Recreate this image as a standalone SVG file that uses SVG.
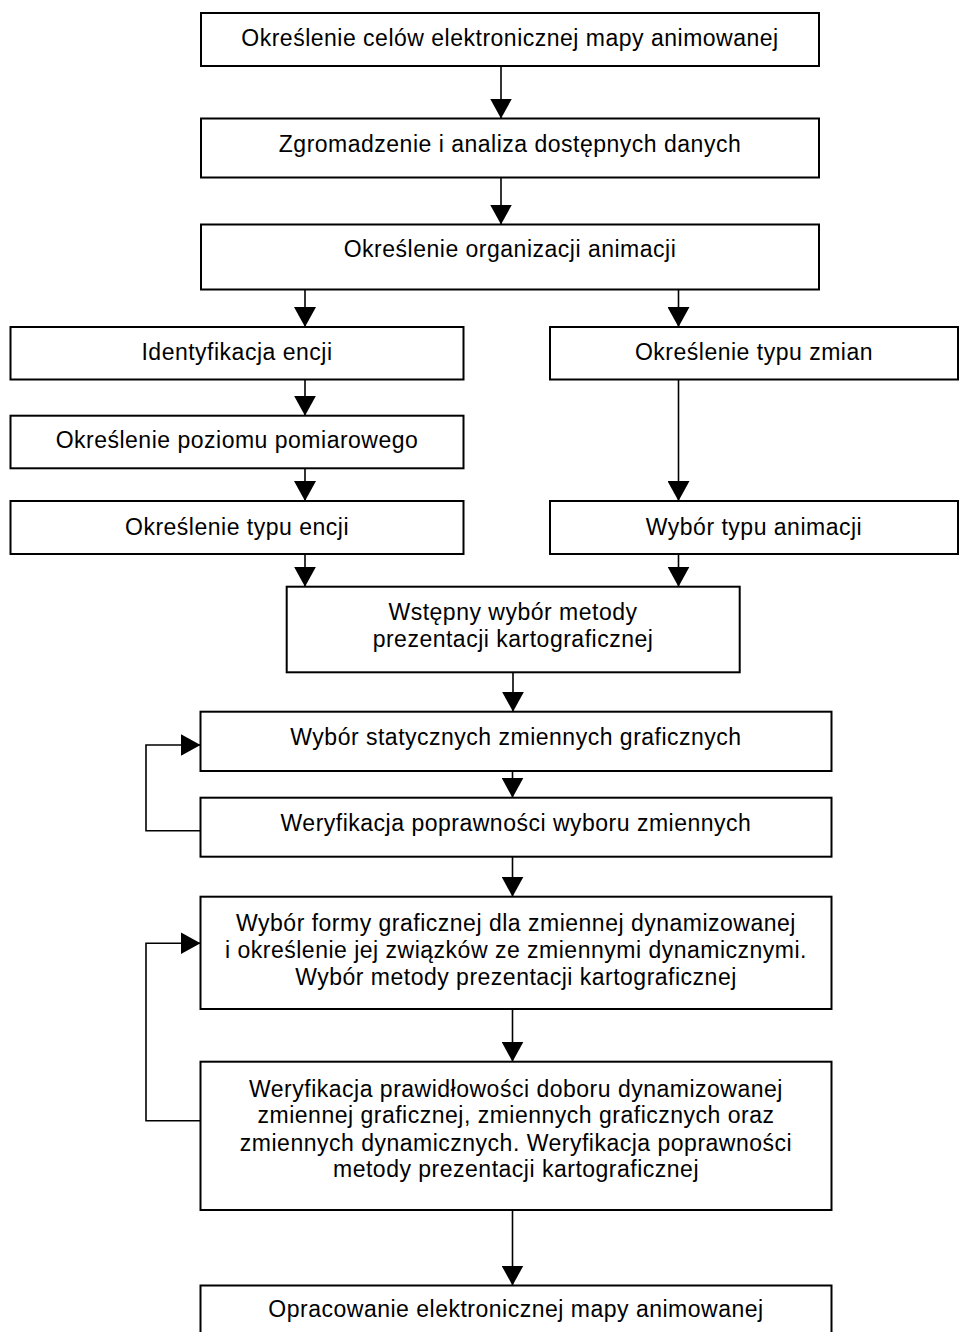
<svg xmlns="http://www.w3.org/2000/svg" width="960" height="1332" viewBox="0 0 960 1332">
<style>
.box{fill:#fff;stroke:#000;stroke-width:2}
.t{font-family:"Liberation Sans",Arial,sans-serif;font-size:23px;letter-spacing:0.5px;fill:#000;text-anchor:middle}
.c{fill:none;stroke:#000;stroke-width:1.6}
</style>
<defs>
<marker id="ah" viewBox="0 0 20 22" refX="20" refY="11" markerWidth="20" markerHeight="22" markerUnits="userSpaceOnUse" orient="auto">
<path d="M0,0 L20,11 L0,22 z" fill="#000"/>
</marker>
</defs>
<rect width="960" height="1332" fill="#fff"/>
<g id="connectors">
<line class="c" x1="501" y1="66" x2="501" y2="118.5" marker-end="url(#ah)"/>
<line class="c" x1="501" y1="177.5" x2="501" y2="224.5" marker-end="url(#ah)"/>
<line class="c" x1="305" y1="289.5" x2="305" y2="327" marker-end="url(#ah)"/>
<line class="c" x1="678.5" y1="289.5" x2="678.5" y2="327" marker-end="url(#ah)"/>
<line class="c" x1="305" y1="379.5" x2="305" y2="415.7" marker-end="url(#ah)"/>
<line class="c" x1="305" y1="468.3" x2="305" y2="501" marker-end="url(#ah)"/>
<line class="c" x1="678.5" y1="379.5" x2="678.5" y2="501" marker-end="url(#ah)"/>
<line class="c" x1="305" y1="554" x2="305" y2="586.7" marker-end="url(#ah)"/>
<line class="c" x1="678.5" y1="554" x2="678.5" y2="586.7" marker-end="url(#ah)"/>
<line class="c" x1="513" y1="672.3" x2="513" y2="711.7" marker-end="url(#ah)"/>
<line class="c" x1="512.5" y1="771" x2="512.5" y2="797.7" marker-end="url(#ah)"/>
<line class="c" x1="512.5" y1="856.7" x2="512.5" y2="896.7" marker-end="url(#ah)"/>
<line class="c" x1="512.5" y1="1009" x2="512.5" y2="1061.7" marker-end="url(#ah)"/>
<line class="c" x1="512.5" y1="1210" x2="512.5" y2="1285.5" marker-end="url(#ah)"/>
<path class="c" d="M200.5,830.7 H146 V745 H200.5" marker-end="url(#ah)"/>
<path class="c" d="M200.5,1120.7 H146 V943.3 H200.5" marker-end="url(#ah)"/>
</g>
<g id="n1"><rect class="box" x="201" y="13" width="618" height="53"/><text class="t" x="510" y="45.5">Określenie celów elektronicznej mapy animowanej</text></g>
<g id="n2"><rect class="box" x="201" y="118.5" width="618" height="59"/><text class="t" x="510" y="152">Zgromadzenie i analiza dostępnych danych</text></g>
<g id="n3"><rect class="box" x="201" y="224.5" width="618" height="65"/><text class="t" x="510" y="257">Określenie organizacji animacji</text></g>
<g id="n4"><rect class="box" x="10.5" y="327" width="453" height="52.5"/><text class="t" x="237" y="360">Identyfikacja encji</text></g>
<g id="n5"><rect class="box" x="550" y="327" width="408" height="52.5"/><text class="t" x="754" y="360">Określenie typu zmian</text></g>
<g id="n6"><rect class="box" x="10.5" y="415.7" width="453" height="52.6"/><text class="t" x="237" y="448">Określenie poziomu pomiarowego</text></g>
<g id="n7"><rect class="box" x="10.5" y="501" width="453" height="53"/><text class="t" x="237" y="534.5">Określenie typu encji</text></g>
<g id="n8"><rect class="box" x="550" y="501" width="408" height="53"/><text class="t" x="754" y="534.5">Wybór typu animacji</text></g>
<g id="n9"><rect class="box" x="286.7" y="586.7" width="453" height="85.6"/><text class="t" x="513" y="620">Wstępny wybór metody</text><text class="t" x="513" y="647">prezentacji kartograficznej</text></g>
<g id="n10"><rect class="box" x="200.5" y="711.7" width="631" height="59.3"/><text class="t" x="516" y="745">Wybór statycznych zmiennych graficznych</text></g>
<g id="n11"><rect class="box" x="200.5" y="797.7" width="631" height="59"/><text class="t" x="516" y="830.7">Weryfikacja poprawności wyboru zmiennych</text></g>
<g id="n12"><rect class="box" x="200.5" y="896.7" width="631" height="112.3"/><text class="t" x="516" y="930.7">Wybór formy graficznej dla zmiennej dynamizowanej</text><text class="t" x="516" y="957.7">i określenie jej związków ze zmiennymi dynamicznymi.</text><text class="t" x="516" y="985">Wybór metody prezentacji kartograficznej</text></g>
<g id="n13"><rect class="box" x="200.5" y="1061.7" width="631" height="148.3"/><text class="t" x="516" y="1096.7">Weryfikacja prawidłowości doboru dynamizowanej</text><text class="t" x="516" y="1123.3">zmiennej graficznej, zmiennych graficznych oraz</text><text class="t" x="516" y="1150.7">zmiennych dynamicznych. Weryfikacja poprawności</text><text class="t" x="516" y="1177.3">metody prezentacji kartograficznej</text></g>
<g id="n14"><rect class="box" x="200.5" y="1285.5" width="631" height="60"/><text class="t" x="516" y="1317">Opracowanie elektronicznej mapy animowanej</text></g>
</svg>
